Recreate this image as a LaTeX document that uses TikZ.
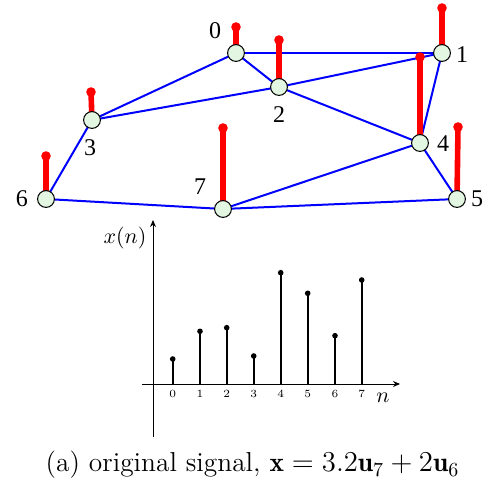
\documentclass[tikz,border=0pt]{standalone}
\usepackage{fontspec}
\newfontfamily\lblfont{Liberation Serif}
\usetikzlibrary{arrows.meta}
\definecolor{nodegreen}{RGB}{226,246,226}
\definecolor{edgeblue}{RGB}{0,0,255}
\definecolor{stemred}{RGB}{255,0,0}
\tikzset{
  vtx/.style={circle,draw=black,line width=0.5pt,fill=nodegreen,minimum size=8.4pt,inner sep=0pt},
  edge/.style={draw=edgeblue,line width=1pt},
  redstem/.style={draw=stemred,line width=2.8pt},
  vlabel/.style={font=\lblfont\fontsize{12}{13}\selectfont,inner sep=0pt},
  blkstem/.style={draw=black,line width=1.2pt},
  axisline/.style={draw=black,line width=0.5pt,-{Stealth[length=3.5pt,width=3pt]}},
  ticklabel/.style={font=\fontsize{5.5}{6}\selectfont,inner sep=0pt},
  axlabel/.style={font=\fontsize{11}{12}\selectfont,inner sep=0pt},
  caption/.style={font=\fontsize{13.7}{16}\selectfont,inner sep=0pt},
}
\begin{document}
\begin{tikzpicture}[x=0.5pt,y=-0.5pt]
\useasboundingbox (0,0) rectangle (498,481);
% vertices
\coordinate (p0) at (236,53);
\coordinate (p1) at (442,53);
\coordinate (p2) at (279,87);
\coordinate (p3) at (92,120);
\coordinate (p4) at (420,143);
\coordinate (p5) at (457,199);
\coordinate (p6) at (46,199);
\coordinate (p7) at (223,209);
% edges
\draw[edge] (p0) -- (p1);
\draw[edge] (p0) -- (p2);
\draw[edge] (p0) -- (p3);
\draw[edge] (p2) -- (p3);
\draw[edge] (p2) -- (p1);
\draw[edge] (p2) -- (p4);
\draw[edge] (p1) -- (p4);
\draw[edge] (p3) -- (p6);
\draw[edge] (p6) -- (p7);
\draw[edge] (p7) -- (p4);
\draw[edge] (p7) -- (p5);
\draw[edge] (p4) -- (p5);
% red stems
\coordinate (t0) at (236,27);
\coordinate (t1) at (442,8);
\coordinate (t2) at (279,40);
\coordinate (t3) at (91,92);
\coordinate (t4) at (420,57);
\coordinate (t5) at (458,127);
\coordinate (t6) at (46,156);
\coordinate (t7) at (223,128);
\foreach \i in {0,...,7}{
  \draw[redstem] (p\i) -- (t\i);
  \fill[stemred] (t\i) circle (2.4pt);
}
% vertex circles
\foreach \i in {0,...,7}{
  \node[vtx] (v\i) at (p\i) {};
}
% labels
\node[vlabel] (l0) at (215,31) {0};
\node[vlabel] (l1) at (462,55) {1};
\node[vlabel] (l2) at (279,115) {2};
\node[vlabel] (l3) at (90,148) {3};
\node[vlabel] (l4) at (443,144) {4};
\node[vlabel] (l5) at (477,199) {5};
\node[vlabel] (l6) at (22,199) {6};
\node[vlabel] (l7) at (200,187) {7};
% stem plot axes
\coordinate (yb) at (153,437);
\coordinate (yt) at (153,220);
\coordinate (xl) at (142,384);
\coordinate (xr) at (400,384);
\draw[axisline] (yb) -- (yt);
\draw[axisline] (xl) -- (xr);
\node[axlabel] (xn) at (125,238) {$x(n)$};
\node[axlabel] (nl) at (383,398) {$n$};
% black stems
\foreach \i/\xx/\yy in {0/172.7/359,1/200/331.3,2/226.7/327.7,3/253.7/356,4/280.7/272.7,5/307.7/293.3,6/335/335.7,7/361.7/280}{
  \coordinate (b\i) at (\xx,384);
  \coordinate (s\i) at (\xx,\yy);
  \draw[blkstem] (b\i) -- (s\i);
  \fill[black] (s\i) circle (1.4pt);
  \node[ticklabel] (k\i) at (\xx,394) {\i};
}
% caption
\node[caption] (cap) at (252.5,465) {(a) original signal, $\mathbf{x}=3.2\mathbf{u}_7+2\mathbf{u}_6$};
\end{tikzpicture}
\end{document}
